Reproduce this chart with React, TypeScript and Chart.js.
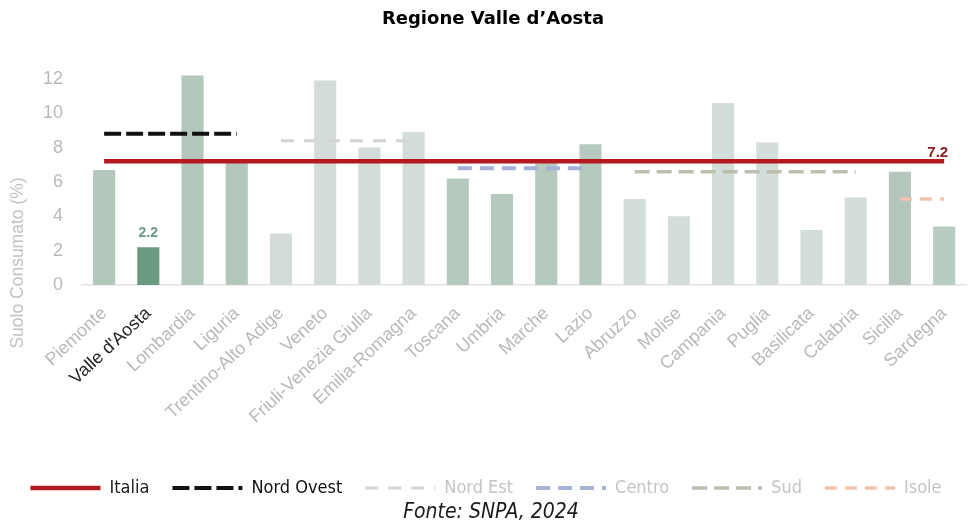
import React, { useEffect, useRef } from 'react';
import { Chart, registerables } from 'chart.js';

Chart.register(...registerables);

const titleText = 'Regione Valle d’Aosta';
const sourceText = 'Fonte: SNPA, 2024';
const yAxisTitle = 'Suolo Consumato (%)';

const categories = [
  'Piemonte', "Valle d'Aosta", 'Lombardia', 'Liguria', 'Trentino-Alto Adige', 'Veneto',
  'Friuli-Venezia Giulia', 'Emilia-Romagna', 'Toscana', 'Umbria', 'Marche', 'Lazio',
  'Abruzzo', 'Molise', 'Campania', 'Puglia', 'Basilicata', 'Calabria', 'Sicilia', 'Sardegna',
];

const suoloConsumato = [6.7, 2.2, 12.2, 7.1, 3.0, 11.9, 8.0, 8.9, 6.2, 5.3, 7.1, 8.2, 5.0, 4.0, 10.6, 8.3, 3.2, 5.1, 6.6, 3.4];

const barColors = [
  '#b3c7bb', '#6b9a82', '#b3c7bb', '#b3c7bb',
  '#d3dcd8', '#d3dcd8', '#d3dcd8', '#d3dcd8',
  '#b6c9bf', '#b6c9bf', '#b6c9bf', '#b6c9bf',
  '#d3ddd9', '#d3ddd9', '#d3ddd9', '#d3ddd9', '#d3ddd9', '#d3ddd9',
  '#b5c7bc', '#b9ccc1',
];

const italia = [7.2, 7.2, 7.2, 7.2, 7.2, 7.2, 7.2, 7.2, 7.2, 7.2, 7.2, 7.2, 7.2, 7.2, 7.2, 7.2, 7.2, 7.2, 7.2, 7.2];
const nordOvest = [8.8, 8.8, 8.8, 8.8, null, null, null, null, null, null, null, null, null, null, null, null, null, null, null, null];
const nordEst = [null, null, null, null, 8.4, 8.4, 8.4, 8.4, null, null, null, null, null, null, null, null, null, null, null, null];
const centro = [null, null, null, null, null, null, null, null, 6.8, 6.8, 6.8, 6.8, null, null, null, null, null, null, null, null];
const sud = [null, null, null, null, null, null, null, null, null, null, null, null, 6.6, 6.6, 6.6, 6.6, 6.6, 6.6, null, null];
const isole = [null, null, null, null, null, null, null, null, null, null, null, null, null, null, null, null, null, null, 5.0, 5.0];

const yTicks = [0, 2, 4, 6, 8, 10, 12];

const italiaValue = 7.2;
const highlightIndex = 1;

const legendTextColors: Record<string, string> = {
  'Italia': '#222222',
  'Nord Ovest': '#111111',
  'Nord Est': '#c4c4c4',
  'Centro': '#c4c4c4',
  'Sud': '#c4c4c4',
  'Isole': '#c4c4c4',
};

const narrowFont = "'Liberation Sans Narrow', 'DejaVu Sans Condensed', 'Roboto', sans-serif";

const annotations = {
  id: 'annotations',
  afterDraw(chart: any) {
    const { ctx, scales } = chart;
    const x = scales.x;
    const y = scales.y;
    ctx.save();
    // title
    ctx.fillStyle = '#000000';
    ctx.font = "bold 18px 'DejaVu Sans'";
    ctx.textAlign = 'center';
    ctx.textBaseline = 'middle';
    ctx.fillText(titleText, 493, 19);
    // y axis title
    ctx.save();
    ctx.translate(18, 263);
    ctx.rotate(-Math.PI / 2);
    ctx.fillStyle = '#c2c2c2';
    ctx.font = "17.5px 'Liberation Sans'";
    ctx.fillText(yAxisTitle, 0, 0);
    ctx.restore();
    // footer
    ctx.fillStyle = '#1a1a1a';
    ctx.font = 'italic 21px ' + narrowFont;
    ctx.fillText(sourceText, 491, 513);
    // 7.2 label
    ctx.fillStyle = '#8c1f22';
    ctx.font = "bold 15px 'Liberation Sans'";
    ctx.textAlign = 'right';
    ctx.textBaseline = 'bottom';
    ctx.fillText(String(italiaValue), x.getPixelForValue(categories.length - 1) + 4, y.getPixelForValue(italiaValue) - 1);
    // highlighted bar label
    ctx.fillStyle = '#6a9b84';
    ctx.font = "bold 14px 'Liberation Sans'";
    ctx.textAlign = 'center';
    ctx.fillText(suoloConsumato[highlightIndex].toFixed(1), x.getPixelForValue(highlightIndex), y.getPixelForValue(suoloConsumato[highlightIndex]) - 7);
    ctx.restore();
  },
};

export default function App() {
  const ref = useRef<HTMLCanvasElement>(null);
  useEffect(() => {
    const lineBase = { type: 'line' as const, pointRadius: 0, pointHoverRadius: 0, pointStyle: 'line', fill: false, spanGaps: false, order: 1, tension: 0 };
    const chart = new Chart(ref.current as HTMLCanvasElement, {
      type: 'bar',
      data: {
        labels: categories,
        datasets: [
          { ...lineBase, label: 'Italia', data: italia, borderColor: '#b3191f', backgroundColor: '#b3191f', borderWidth: 4.5 },
          { ...lineBase, label: 'Nord Ovest', data: nordOvest, borderColor: '#111111', backgroundColor: '#111111', borderWidth: 4, borderDash: [17, 5] },
          { ...lineBase, label: 'Nord Est', data: nordEst, borderColor: '#d4d4d4', backgroundColor: '#d4d4d4', borderWidth: 3, borderDash: [13, 10] },
          { ...lineBase, label: 'Centro', data: centro, borderColor: '#a3b2d6', backgroundColor: '#a3b2d6', borderWidth: 4, borderDash: [14, 8] },
          { ...lineBase, label: 'Sud', data: sud, borderColor: '#bcbfae', backgroundColor: '#bcbfae', borderWidth: 3.5, borderDash: [15, 7] },
          { ...lineBase, label: 'Isole', data: isole, borderColor: '#f3c4ad', backgroundColor: '#f3c4ad', borderWidth: 3.5, borderDash: [12, 8] },
          { type: 'bar' as const, label: 'Suolo Consumato', data: suoloConsumato, backgroundColor: barColors, barPercentage: 0.5, categoryPercentage: 1, order: 10 },
        ] as any,
      },
      options: {
        animation: false,
        responsive: true,
        maintainAspectRatio: false,
        layout: { padding: { top: 72, right: 5, left: 0, bottom: 21 } },
        plugins: {
          title: { display: false },
          tooltip: { enabled: false },
          legend: {
            display: true,
            position: 'bottom',
            labels: {
              usePointStyle: true,
              pointStyleWidth: 70,
              boxHeight: 12,
              padding: 23,
              font: { family: narrowFont, size: 18 },
              color: '#c4c4c4',
              generateLabels: (c: any) => {
                const items = (Chart.defaults.plugins.legend.labels as any).generateLabels(c);
                return items
                  .filter((it: any) => it.text !== 'Suolo Consumato')
                  .map((it: any) => {
                    const ds: any = c.data.datasets[it.datasetIndex];
                    return {
                      ...it,
                      pointStyle: 'line',
                      strokeStyle: ds.borderColor,
                      lineWidth: ds.borderWidth,
                      lineDash: ds.borderDash || [],
                      lineDashOffset: 0,
                      fontColor: legendTextColors[it.text] || '#c4c4c4',
                    };
                  });
              },
            },
          },
        },
        scales: {
          x: {
            grid: { display: false, drawTicks: false },
            border: { display: true, color: '#e2e2e2', width: 1.5 },
            ticks: {
              autoSkip: false,
              minRotation: 43,
              maxRotation: 43,
              padding: 18,
              font: { family: "'Liberation Sans'", size: 18 },
              color: (c: any) => (c.index === highlightIndex ? '#262626' : '#b9b9b9'),
            },
            afterFit: (s: any) => { s.height = 171; },
          },
          y: {
            min: 0,
            max: 12.4,
            grid: { display: false, drawTicks: false },
            border: { display: false },
            ticks: {
              stepSize: 2,
              padding: 19,
              font: { family: "'Liberation Sans'", size: 18 },
              color: '#b9b9b9',
            },
            afterBuildTicks: (s: any) => { s.ticks = yTicks.map((v) => ({ value: v })); },
            afterFit: (s: any) => { s.width = 82; },
          },
        },
      },
      plugins: [annotations],
    });
    return () => chart.destroy();
  }, []);
  return (
    <div style={{ position: 'absolute', left: 0, top: 0, width: 977, height: 528, background: '#ffffff' }}>
      <canvas ref={ref} />
    </div>
  );
}
